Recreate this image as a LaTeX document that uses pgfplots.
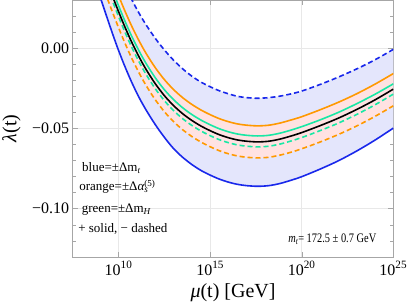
\documentclass[border=0pt]{standalone}
\usepackage{fontspec}
\setmainfont{Liberation Serif}
\usepackage{graphicx}
\usepackage{pgfplots}
\pgfplotsset{compat=1.18}
\definecolor{cblue}{RGB}{25,40,235}
\definecolor{cbluefill}{RGB}{228,230,252}
\definecolor{corange}{RGB}{255,153,0}
\definecolor{cpink}{RGB}{255,226,226}
\definecolor{cgreen}{RGB}{25,232,165}
\begin{document}
\begin{tikzpicture}
\path[use as bounding box] (-72.7pt,-50pt) rectangle (336.3pt,257pt);
\begin{axis}[
  anchor=south west, at={(0pt,0pt)},
  width=320.6pt, height=257pt, scale only axis,
  xmin=7.5, xmax=25, ymin=-0.1302, ymax=0.0301,
  axis line style={gray!70},
  xtick={10,15,20,25},
  xticklabels={10\textsuperscript{10},10\textsuperscript{15},10\textsuperscript{20},10\textsuperscript{25}},
  ytick={-0.1,-0.05,0},
  yticklabels={−0.10,−0.05,0.00},
  minor ytick={-0.13,-0.12,-0.11,-0.09,-0.08,-0.07,-0.06,-0.04,-0.03,-0.02,-0.01,0.01,0.02,0.03},
  tick style={gray!70},
  major tick length=5pt, minor tick length=3pt,
  grid=major, major grid style={gray!18, line width=0.6pt},
  tick label style={font=\fontsize{16}{19}\selectfont},
  xticklabel style={yshift=-1pt},
  xlabel={{\itshape μ}(t) [GeV]},
  ylabel={{\itshape λ}(t)},
  label style={font=\fontsize{20}{24}\selectfont},
  xlabel style={at={(axis description cs:0.5,-0.14)}, anchor=center},
  ylabel style={at={(axis description cs:-0.191,0.5)}, anchor=center},
  every axis plot/.append style={line width=1.6pt},
]
% blue band: blue solid forward, blue dashed back
\addplot[fill=cbluefill, draw=none, line width=0pt] table {
8.8 0.0389
9.1 0.0285
9.5 0.0149
9.9 0.0018
10.3 -0.0100
10.7 -0.0207
11.1 -0.0302
11.5 -0.0384
12.0 -0.0475
12.5 -0.0555
13.0 -0.0625
13.5 -0.0680
14.0 -0.0725
14.5 -0.0762
15.0 -0.0791
15.5 -0.0816
16.0 -0.0835
16.5 -0.0849
17.0 -0.0857
17.6 -0.0861
18.2 -0.0857
18.8 -0.0844
19.4 -0.0824
20.0 -0.0801
21.0 -0.0754
22.0 -0.0702
23.0 -0.0641
24.0 -0.0573
25.0 -0.0498
25.0 -0.0007
24.0 -0.0072
23.0 -0.0129
22.0 -0.0180
21.0 -0.0226
20.0 -0.0267
19.4 -0.0285
18.8 -0.0299
18.2 -0.0308
17.6 -0.0312
17.0 -0.0308
16.5 -0.0300
16.0 -0.0284
15.5 -0.0265
15.0 -0.0240
14.5 -0.0211
14.0 -0.0174
13.5 -0.0128
13.0 -0.0074
12.5 -0.0010
12.0 0.0063
11.5 0.0147
11.1 0.0223
10.7 0.0309
10.3 0.0408
} -- cycle;
% pink band: orange solid forward, orange dashed back
\addplot[fill=cpink, draw=none, line width=0pt] table {
9.1 0.0601
9.5 0.0477
9.9 0.0358
10.3 0.0246
10.7 0.0143
11.1 0.0051
11.5 -0.0031
12.0 -0.0120
12.5 -0.0195
13.0 -0.0257
13.5 -0.0308
14.0 -0.0350
14.5 -0.0385
15.0 -0.0414
15.5 -0.0439
16.0 -0.0458
16.5 -0.0472
17.0 -0.0480
17.6 -0.0484
18.2 -0.0480
18.8 -0.0467
19.4 -0.0448
20.0 -0.0427
21.0 -0.0384
22.0 -0.0337
23.0 -0.0284
24.0 -0.0224
25.0 -0.0158
25.0 -0.0359
24.0 -0.0425
23.0 -0.0485
22.0 -0.0538
21.0 -0.0585
20.0 -0.0627
19.4 -0.0649
18.8 -0.0667
18.2 -0.0680
17.6 -0.0684
17.0 -0.0680
16.5 -0.0672
16.0 -0.0658
15.5 -0.0639
15.0 -0.0614
14.5 -0.0585
14.0 -0.0550
13.5 -0.0508
13.0 -0.0457
12.5 -0.0395
12.0 -0.0320
11.5 -0.0231
11.1 -0.0149
10.7 -0.0057
10.3 0.0046
9.9 0.0158
9.5 0.0277
9.1 0.0401
} -- cycle;
% blue solid (m_t +)
\addplot[cblue, smooth] table {
8.8 0.0389
9.1 0.0285
9.5 0.0149
9.9 0.0018
10.3 -0.0100
10.7 -0.0207
11.1 -0.0302
11.5 -0.0384
12.0 -0.0475
12.5 -0.0555
13.0 -0.0625
13.5 -0.0680
14.0 -0.0725
14.5 -0.0762
15.0 -0.0791
15.5 -0.0816
16.0 -0.0835
16.5 -0.0849
17.0 -0.0857
17.6 -0.0861
18.2 -0.0857
18.8 -0.0844
19.4 -0.0824
20.0 -0.0801
21.0 -0.0754
22.0 -0.0702
23.0 -0.0641
24.0 -0.0573
25.0 -0.0498
};
% blue dashed (m_t -)
\addplot[cblue, smooth, dash pattern=on 5pt off 3pt] table {
10.3 0.0408
10.7 0.0309
11.1 0.0223
11.5 0.0147
12.0 0.0063
12.5 -0.0010
13.0 -0.0074
13.5 -0.0128
14.0 -0.0174
14.5 -0.0211
15.0 -0.0240
15.5 -0.0265
16.0 -0.0284
16.5 -0.0300
17.0 -0.0308
17.6 -0.0312
18.2 -0.0308
18.8 -0.0299
19.4 -0.0285
20.0 -0.0267
21.0 -0.0226
22.0 -0.0180
23.0 -0.0129
24.0 -0.0072
25.0 -0.0007
};
% orange solid
\addplot[corange, smooth] table {
9.1 0.0601
9.5 0.0477
9.9 0.0358
10.3 0.0246
10.7 0.0143
11.1 0.0051
11.5 -0.0031
12.0 -0.0120
12.5 -0.0195
13.0 -0.0257
13.5 -0.0308
14.0 -0.0350
14.5 -0.0385
15.0 -0.0414
15.5 -0.0439
16.0 -0.0458
16.5 -0.0472
17.0 -0.0480
17.6 -0.0484
18.2 -0.0480
18.8 -0.0467
19.4 -0.0448
20.0 -0.0427
21.0 -0.0384
22.0 -0.0337
23.0 -0.0284
24.0 -0.0224
25.0 -0.0158
};
% orange dashed
\addplot[corange, smooth, dash pattern=on 5pt off 3pt] table {
9.1 0.0401
9.5 0.0277
9.9 0.0158
10.3 0.0046
10.7 -0.0057
11.1 -0.0149
11.5 -0.0231
12.0 -0.0320
12.5 -0.0395
13.0 -0.0457
13.5 -0.0508
14.0 -0.0550
14.5 -0.0585
15.0 -0.0614
15.5 -0.0639
16.0 -0.0658
16.5 -0.0672
17.0 -0.0680
17.6 -0.0684
18.2 -0.0680
18.8 -0.0667
19.4 -0.0649
20.0 -0.0627
21.0 -0.0585
22.0 -0.0538
23.0 -0.0485
24.0 -0.0425
25.0 -0.0359
};
% green solid
\addplot[cgreen, smooth] table {
9.1 0.0538
9.5 0.0414
9.9 0.0295
10.3 0.0183
10.7 0.0080
11.1 -0.0012
11.5 -0.0094
12.0 -0.0183
12.5 -0.0258
13.0 -0.0320
13.5 -0.0371
14.0 -0.0413
14.5 -0.0448
15.0 -0.0477
15.5 -0.0502
16.0 -0.0521
16.5 -0.0535
17.0 -0.0543
17.6 -0.0547
18.2 -0.0543
18.8 -0.0530
19.4 -0.0511
20.0 -0.0489
21.0 -0.0447
22.0 -0.0400
23.0 -0.0346
24.0 -0.0287
25.0 -0.0222
};
% green dashed
\addplot[cgreen, smooth, dash pattern=on 5pt off 3pt] table {
9.1 0.0470
9.5 0.0346
9.9 0.0227
10.3 0.0115
10.7 0.0012
11.1 -0.0080
11.5 -0.0162
12.0 -0.0251
12.5 -0.0326
13.0 -0.0388
13.5 -0.0439
14.0 -0.0481
14.5 -0.0516
15.0 -0.0545
15.5 -0.0570
16.0 -0.0589
16.5 -0.0603
17.0 -0.0611
17.6 -0.0615
18.2 -0.0611
18.8 -0.0598
19.4 -0.0579
20.0 -0.0557
21.0 -0.0514
22.0 -0.0467
23.0 -0.0413
24.0 -0.0353
25.0 -0.0286
};
% central value
\addplot[black, smooth] table {
9.1 0.0501
9.5 0.0377
9.9 0.0258
10.3 0.0146
10.7 0.0043
11.1 -0.0049
11.5 -0.0131
12.0 -0.0220
12.5 -0.0295
13.0 -0.0357
13.5 -0.0408
14.0 -0.0450
14.5 -0.0485
15.0 -0.0514
15.5 -0.0539
16.0 -0.0558
16.5 -0.0572
17.0 -0.0580
17.6 -0.0584
18.2 -0.0580
18.8 -0.0567
19.4 -0.0548
20.0 -0.0526
21.0 -0.0483
22.0 -0.0436
23.0 -0.0382
24.0 -0.0322
25.0 -0.0255
};
\begin{scope}[every node/.style={font=\fontsize{13}{15}\selectfont, inner sep=0pt}]
\node[anchor=west] at (rel axis cs:0.029,0.346) {blue=±Δm\textsubscript{\itshape t}};
\node[anchor=west] at (rel axis cs:0.020,0.274) {orange=±Δ{\itshape α}\rlap{\textsubscript{\itshape s}}\textsuperscript{(5)}};
\node[anchor=west] at (rel axis cs:0.028,0.183) {green=±Δm\textsubscript{\itshape H}};
\node[anchor=west] at (rel axis cs:0.017,0.108) {+ solid, − dashed};
\node[anchor=west] at (rel axis cs:0.672,0.069) {\scalebox{0.8}[1]{{\itshape m}\textsubscript{\itshape t}= 172.5 ± 0.7 GeV}};
\end{scope}
\end{axis}
\end{tikzpicture}
\end{document}
